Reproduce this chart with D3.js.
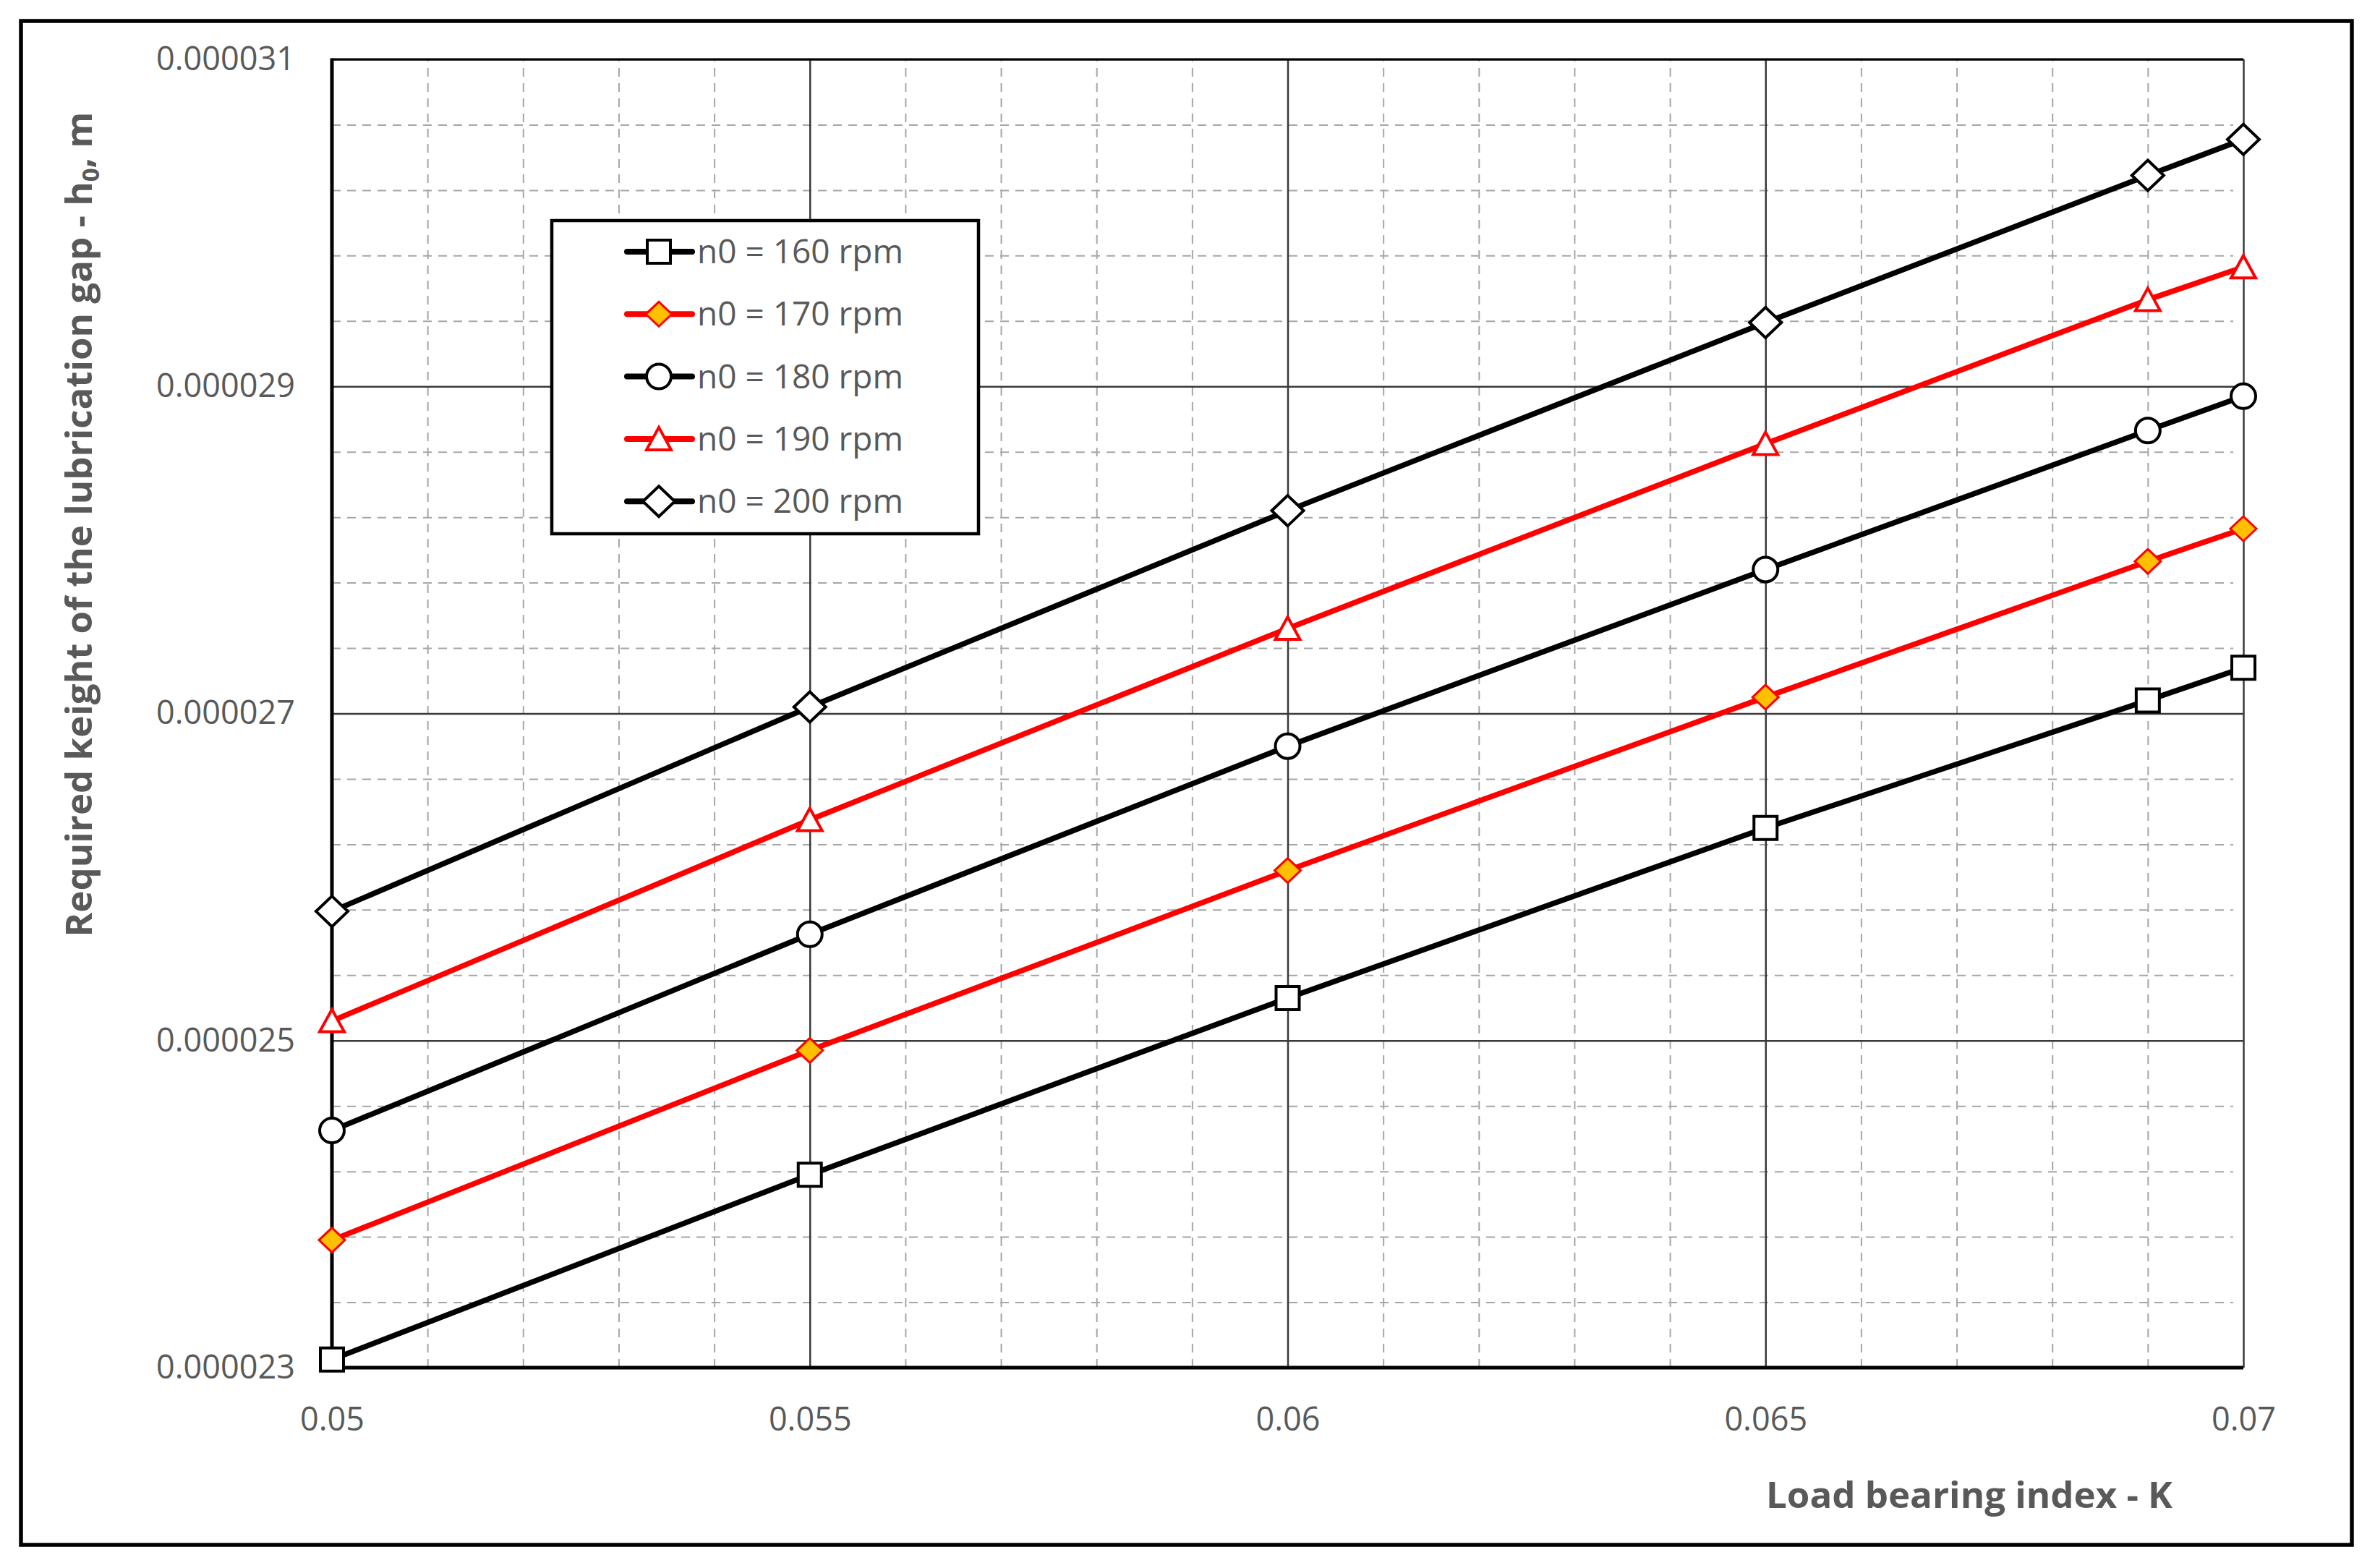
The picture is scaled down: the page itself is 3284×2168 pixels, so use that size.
<!DOCTYPE html>
<html>
<head>
<meta charset="utf-8">
<script src="https://cdn.jsdelivr.net/npm/d3@7"></script>
<style>
  body { margin: 0; background: #fff; }
  text { font-family: "Open Sans", sans-serif; fill: #595959; }
</style>
</head>
<body>
<svg id="chart" width="3284" height="2168"></svg>
<script>
// load bearing index K (x) and required gap h0 in metres (y)
var kValues = [0.05, 0.055, 0.06, 0.065, 0.069, 0.07];
var h160 = [2.305e-5, 2.418e-5, 2.526e-5, 2.630e-5, 2.708e-5, 2.728e-5];
var h170 = [2.378e-5, 2.494e-5, 2.604e-5, 2.710e-5, 2.793e-5, 2.813e-5];
var h180 = [2.445e-5, 2.565e-5, 2.680e-5, 2.788e-5, 2.873e-5, 2.894e-5];
var h190 = [2.512e-5, 2.635e-5, 2.752e-5, 2.865e-5, 2.953e-5, 2.973e-5];
var h200 = [2.579e-5, 2.704e-5, 2.824e-5, 2.939e-5, 3.029e-5, 3.051e-5];
var seriesNames = ["n0 = 160 rpm", "n0 = 170 rpm", "n0 = 180 rpm", "n0 = 190 rpm", "n0 = 200 rpm"];

var xTicks = [0.05, 0.055, 0.06, 0.065, 0.07];
var xTickLabels = ["0.05", "0.055", "0.06", "0.065", "0.07"];
var yTicks = [0.000023, 0.000025, 0.000027, 0.000029, 0.000031];
var yTickLabels = ["0.000023", "0.000025", "0.000027", "0.000029", "0.000031"];

var styles = [
  { line: "#000", marker: "square",  fill: "#fff",    stroke: "#000", sw: 4 },
  { line: "#f00", marker: "diamondS", fill: "#ffc000", stroke: "#f00", sw: 3 },
  { line: "#000", marker: "circle",  fill: "#fff",    stroke: "#000", sw: 4 },
  { line: "#f00", marker: "triangle", fill: "#fff",   stroke: "#f00", sw: 4 },
  { line: "#000", marker: "diamond", fill: "#fff",    stroke: "#000", sw: 4 }
];
var allSeries = [h160, h170, h180, h190, h200];

var svg = d3.select("#chart");
var pLeft = 459, pRight = 3102, pTop = 82, pBottom = 1891;

var x = d3.scaleLinear().domain([0.05, 0.07]).range([pLeft, pRight]);
var y = d3.scaleLinear().domain([0.000023, 0.000031]).range([pBottom, pTop]);

// minor gridlines
var xMinor = d3.range(0, 21).map(function(i) { return 0.05 + i * 0.001; })
  .filter(function(v, i) { return i % 5 !== 0; });
var yMinor = d3.range(0, 21).map(function(i) { return 0.000023 + i * 0.0000004; })
  .filter(function(v, i) { return i % 5 !== 0; });

var grid = svg.append("g");
grid.append("g")
    .attr("transform", "translate(0," + pBottom + ")")
    .call(d3.axisBottom(x).tickValues(xMinor).tickSize(-(pBottom - pTop)).tickFormat(""))
    .call(function(g) { g.select(".domain").remove(); })
    .selectAll("line").attr("stroke", "#a6a6a6").attr("stroke-width", 2).attr("stroke-dasharray", "12,9");
grid.append("g")
    .attr("transform", "translate(" + pLeft + ",0)")
    .call(d3.axisLeft(y).tickValues(yMinor).tickSize(-(pRight - pLeft - 14)).tickFormat(""))
    .call(function(g) { g.select(".domain").remove(); })
    .selectAll("line").attr("stroke", "#a6a6a6").attr("stroke-width", 2).attr("stroke-dasharray", "12,9");

// major gridlines
grid.append("g")
    .attr("transform", "translate(0," + pBottom + ")")
    .call(d3.axisBottom(x).tickValues(xTicks).tickSize(-(pBottom - pTop)).tickFormat(""))
    .call(function(g) { g.select(".domain").remove(); })
    .selectAll("line").attr("stroke", "#3a3a3a").attr("stroke-width", 2.5);
grid.append("g")
    .attr("transform", "translate(" + pLeft + ",0)")
    .call(d3.axisLeft(y).tickValues(yTicks).tickSize(-(pRight - pLeft)).tickFormat(""))
    .call(function(g) { g.select(".domain").remove(); })
    .selectAll("line").attr("stroke", "#3a3a3a").attr("stroke-width", 2.5);

// tick labels
var xAxis = svg.append("g")
    .attr("transform", "translate(0," + pBottom + ")")
    .call(d3.axisBottom(x).tickValues(xTicks).tickSize(0).tickPadding(55)
      .tickFormat(function(d, i) { return xTickLabels[i]; }));
var yAxis = svg.append("g")
    .attr("transform", "translate(" + pLeft + ",0)")
    .call(d3.axisLeft(y).tickValues(yTicks).tickSize(0).tickPadding(51)
      .tickFormat(function(d, i) { return yTickLabels[i]; }));
[xAxis, yAxis].forEach(function(a) {
  a.select(".domain").remove();
  a.selectAll("text").attr("font-size", 45).attr("font-family", "Open Sans").attr("fill", "#595959");
});

// axis lines
svg.append("line").attr("x1", pLeft).attr("x2", pRight).attr("y1", pTop).attr("y2", pTop)
    .attr("stroke", "#000").attr("stroke-width", 3);
svg.append("line").attr("x1", pLeft).attr("x2", pLeft).attr("y1", pTop - 1.5).attr("y2", pBottom + 2)
    .attr("stroke", "#000").attr("stroke-width", 5);
svg.append("line").attr("x1", pLeft).attr("x2", pRight).attr("y1", pBottom).attr("y2", pBottom)
    .attr("stroke", "#000").attr("stroke-width", 5);

function markerPath(type) {
  if (type === "square") return "M-16,-16H16V16H-16Z";
  if (type === "diamond") return "M0,-21L22,0L0,21L-22,0Z";
  if (type === "diamondS") return "M0,-17L18,0L0,17L-18,0Z";
  if (type === "triangle") return "M0,-16L17,15L-17,15Z";
  var p = d3.path(); p.arc(0, 0, 17, 0, 2 * Math.PI); p.closePath(); return p.toString();
}

var line = d3.line()
    .x(function(d) { return x(d[0]); })
    .y(function(d) { return y(d[1]); });

allSeries.forEach(function(vals, si) {
  var st = styles[si];
  var pts = kValues.map(function(k, i) { return [k, vals[i]]; });
  svg.append("path").datum(pts)
      .attr("d", line).attr("fill", "none")
      .attr("stroke", st.line).attr("stroke-width", 7.5).attr("stroke-linejoin", "round");
  svg.append("g").selectAll("path").data(pts).join("path")
      .attr("transform", function(d) { return "translate(" + x(d[0]) + "," + y(d[1]) + ")"; })
      .attr("d", markerPath(st.marker))
      .attr("fill", st.fill).attr("stroke", st.stroke).attr("stroke-width", st.sw);
});

// legend
var legend = svg.append("g");
legend.append("rect").attr("x", 763).attr("y", 305).attr("width", 590).attr("height", 433)
    .attr("fill", "#fff").attr("stroke", "#000").attr("stroke-width", 4.5);
seriesNames.forEach(function(name, i) {
  var st = styles[i];
  var ry = 348 + i * 86.3;
  var row = legend.append("g").attr("transform", "translate(0," + ry + ")");
  row.append("line").attr("x1", 867).attr("x2", 957).attr("y1", 0).attr("y2", 0)
      .attr("stroke", st.line).attr("stroke-width", 8).attr("stroke-linecap", "round");
  row.append("path").attr("transform", "translate(911,0)").attr("d", markerPath(st.marker))
      .attr("fill", st.fill).attr("stroke", st.stroke).attr("stroke-width", st.sw);
  row.append("text").attr("x", 964).attr("y", 16).attr("font-size", 46).text(name);
});

// axis titles
svg.append("text")
    .attr("x", 2723).attr("y", 2085)
    .attr("text-anchor", "middle").attr("font-size", 51).attr("font-weight", 700)
    .text("Load bearing index - K");

var yt = svg.append("text")
    .attr("transform", "translate(127,725) rotate(-90)")
    .attr("text-anchor", "middle").attr("font-size", 51).attr("font-weight", 700);
yt.append("tspan").text("Required keight of the lubrication gap - h");
yt.append("tspan").attr("font-size", 33).attr("dy", 10).text("0");
yt.append("tspan").attr("dy", -10).text(", m");

// outer frame
svg.append("rect").attr("x", 29).attr("y", 29).attr("width", 3223).attr("height", 2107)
    .attr("fill", "none").attr("stroke", "#000").attr("stroke-width", 5.5);
</script>
</body>
</html>
